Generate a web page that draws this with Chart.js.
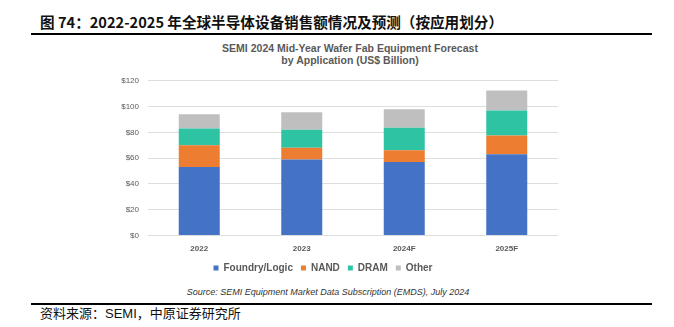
<!DOCTYPE html>
<html>
<head>
<meta charset="utf-8">
<script src="https://cdn.jsdelivr.net/npm/chart.js@4/dist/chart.umd.min.js"></script>
<style>
  body { margin: 0; background: #fff; }
  #page { position: relative; width: 674px; height: 327px; overflow: hidden; font-family: "Liberation Sans", Arial, sans-serif; }
  #titulo { position: absolute; left: 40px; top: 11px; font-family: "Noto Sans CJK SC", sans-serif; font-weight: bold; font-size: 14.6px; color: #111; white-space: nowrap; }
  #linea1 { position: absolute; left: 31px; top: 33px; width: 621px; height: 2px; background: #000; }
  #subtitulo { position: absolute; left: 190px; top: 42px; width: 320px; text-align: center; font-weight: bold; font-size: 10.5px; line-height: 12px; color: #595959; }
  #fuente { position: absolute; left: 128px; top: 287px; width: 400px; text-align: center; font-style: italic; font-size: 9px; color: #333; }
  #linea2 { position: absolute; left: 31px; top: 303px; width: 621px; height: 2px; background: #000; }
  #pie { position: absolute; left: 40px; top: 303px; font-size: 13px; color: #111; white-space: nowrap; }
  #pie .cjk { font-family: "Noto Sans CJK SC", sans-serif; }
  #caja { position: absolute; left: 88px; top: 67px; width: 470px; height: 216px; }
</style>
</head>
<body>
<div id="page">
  <div id="titulo">图 74：2022-2025 年全球半导体设备销售额情况及预测（按应用划分）</div>
  <div id="linea1"></div>
  <div id="subtitulo">SEMI 2024 Mid-Year Wafer Fab Equipment Forecast<br>by Application (US$ Billion)</div>
  <div id="caja"><canvas id="grafica"></canvas></div>
  <div id="fuente">Source: SEMI Equipment Market Data Subscription (EMDS), July 2024</div>
  <div id="linea2"></div>
  <div id="pie"><span class="cjk">资料来源：</span>SEMI<span class="cjk">，中原证券研究所</span></div>
</div>
<script>
// años y ventas por aplicación (miles de millones US$)
var anios = ['2022', '2023', '2024F', '2025F'];
var foundry = [53, 59, 57, 63];
var nand = [17, 9, 9, 14.5];
var dram = [13, 14, 17.5, 19.5];
var otros = [11, 13.5, 14.5, 15.5];
var ticks_y = [0, 20, 40, 60, 80, 100, 120];

var colores = ['#4472c4', '#ed7d31', '#2ec4a3', '#bfbfbf'];

function serie(nombre, datos, color) {
    return {
        label: nombre,
        data: datos,
        backgroundColor: color,
        borderWidth: 0,
        barPercentage: 0.4,
        categoryPercentage: 1
    };
}

const ctx = document.getElementById('grafica');
const myChart = new Chart(ctx, {
    type: 'bar',
    data: {
        labels: anios,
        datasets: [
            serie('Foundry/Logic', foundry, colores[0]),
            serie('NAND', nand, colores[1]),
            serie('DRAM', dram, colores[2]),
            serie('Other', otros, colores[3])
        ]
    },
    options: {
        responsive: true,
        maintainAspectRatio: false,
        animation: false,
        layout: { padding: { top: 4, right: 0, bottom: 0, left: 0 } },
        plugins: {
            legend: {
                position: 'bottom',
                labels: {
                    boxWidth: 5,
                    boxHeight: 5,
                    padding: 8,
                    color: '#595959',
                    font: { family: 'Liberation Sans', size: 10, weight: 'bold' }
                }
            },
            tooltip: { enabled: false }
        },
        scales: {
            x: {
                stacked: true,
                grid: { display: false },
                border: { display: false },
                ticks: {
                    color: '#595959',
                    padding: 1,
                    font: { family: 'Liberation Sans', size: 8, weight: 'bold' }
                }
            },
            y: {
                stacked: true,
                min: 0,
                max: 120,
                afterBuildTicks: function (eje) {
                    eje.ticks = ticks_y.map(function (v) { return { value: v }; });
                },
                afterFit: function (eje) { eje.width = 60; },
                grid: { color: '#dedede', lineWidth: 1, drawTicks: false },
                border: { display: false },
                ticks: {
                    color: '#595959',
                    padding: 9,
                    font: { family: 'Liberation Sans', size: 8 },
                    callback: function (v) { return '$' + v; }
                }
            }
        }
    }
});
</script>
</body>
</html>
